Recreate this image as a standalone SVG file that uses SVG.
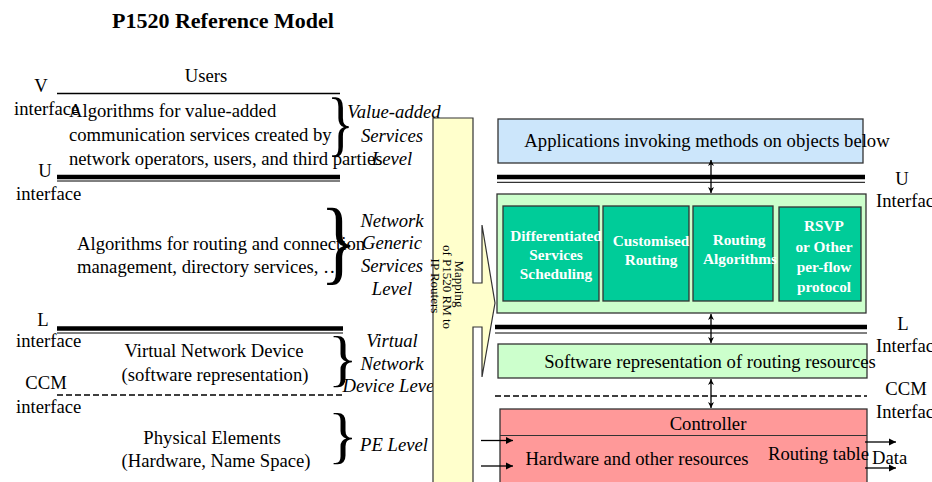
<svg xmlns="http://www.w3.org/2000/svg" width="932" height="482" viewBox="0 0 932 482">
<defs>
<style>
text{font-family:"Liberation Serif","Times New Roman",serif;fill:#000;}
.t{font-size:18.67px;}
.i{font-size:18.67px;font-style:italic;}
.m{text-anchor:middle;}
.b{font-size:15.3px;font-weight:bold;fill:#fff;text-anchor:middle;}
.br{font-size:56px;}
.thin{stroke:#000;stroke-width:1.3;fill:none;}
.thick{stroke:#000;stroke-width:4.5;fill:none;}
.hair{stroke:#000;stroke-width:1;fill:none;}
.dash{stroke:#000;stroke-width:1.6;stroke-dasharray:6 3;fill:none;}
.box{stroke:#333;stroke-width:1.3;}
.arr{stroke:#000;stroke-width:1.3;fill:none;}
</style>
<marker id="ah" viewBox="0 0 10 10" refX="10" refY="5" markerWidth="7" markerHeight="10" markerUnits="userSpaceOnUse" orient="auto-start-reverse">
<path d="M0,0 L10,5 L0,10 Z" fill="#000"/>
</marker>
<marker id="sh" viewBox="0 0 10 10" refX="10" refY="5" markerWidth="8" markerHeight="6" markerUnits="userSpaceOnUse" orient="auto-start-reverse">
<path d="M0,0 L10,5 L0,10 L3,5 Z" fill="#000"/>
</marker>
</defs>
<rect width="932" height="482" fill="#fff"/>

<g id="title"><text x="112" y="28" style="font-size:22px;font-weight:bold">P1520 Reference Model</text></g>

<g id="left-model">
<text class="t m" x="206" y="82">Users</text>
<text class="t m" x="41" y="92">V</text>
<text class="t" x="14" y="115">interface</text>
<text class="t" x="69" y="117">Algorithms for value-added</text>
<text class="t" x="69" y="141">communication services created by</text>
<text class="t" x="69" y="165">network operators, users, and third parties</text>
<text class="t m" x="45" y="177">U</text>
<text class="t" x="16" y="200">interface</text>
<text class="t" x="77" y="250">Algorithms for routing and connection</text>
<text class="t" x="77" y="273">management, directory services, …</text>
<text class="t m" x="43" y="326">L</text>
<text class="t" x="16" y="347">interface</text>
<text class="t m" x="214" y="357">Virtual Network Device</text>
<text class="t m" x="215" y="381">(software representation)</text>
<text class="t m" x="46" y="389">CCM</text>
<text class="t" x="16" y="413">interface</text>
<text class="t m" x="212" y="444">Physical Elements</text>
<text class="t m" x="216" y="467">(Hardware, Name Space)</text>

<line class="thin" x1="57" y1="93.5" x2="340" y2="93.5"/>
<line class="thick" x1="57" y1="177" x2="340" y2="177"/>
<line class="hair" x1="57" y1="181" x2="340" y2="181"/>
<line class="thick" x1="57" y1="328.5" x2="343" y2="328.5"/>
<line class="hair" x1="57" y1="333" x2="343" y2="333"/>
<line class="dash" x1="57" y1="395" x2="343" y2="395"/>

<text class="br" transform="translate(327,147.3) scale(1,1.27)">}</text>
<text class="br" style="font-size:60px" transform="translate(320,273.3) scale(1.3,1.56)">}</text>
<text class="br" transform="translate(328,378.9) scale(1.1,1.11)">}</text>
<text class="br" transform="translate(328,456.1) scale(1.1,1.09)">}</text>

<text class="i m" x="394" y="118">Value-added</text>
<text class="i m" x="392" y="142">Services</text>
<text class="i m" x="392" y="165">Level</text>
<text class="i m" x="392" y="227">Network</text>
<text class="i m" x="392" y="249">Generic</text>
<text class="i m" x="392" y="272">Services</text>
<text class="i m" x="392" y="295">Level</text>
<text class="i m" x="392" y="347">Virtual</text>
<text class="i m" x="392" y="370">Network</text>
<text class="i m" x="391" y="392">Device Level</text>
<text class="i m" x="394" y="451">PE Level</text>
</g>

<g id="mapping">
<path d="M433,118 L473,118 L473,283 L482,283 L482,225 L495,303 L482,377 L482,327 L473,327 L473,490 L433,490 Z" fill="#ffffcc" stroke="#333" stroke-width="1.2"/>
<g style="font-size:13px">
<text class="m" transform="translate(455,284) rotate(90)">Mapping</text>
<text class="m" transform="translate(443,287) rotate(90)">of P1520 RM to</text>
<text class="m" transform="translate(430.5,286) rotate(90)">IP Routers</text>
</g>
</g>

<g id="applications">
<rect class="box" x="498" y="119" width="365" height="44" fill="#cce6fb"/>
<text class="t m" x="707" y="147">Applications invoking methods on objects below</text>
</g>

<g id="u-interface">
<line class="thick" x1="497" y1="177" x2="865" y2="177"/>
<line class="hair" x1="497" y1="182.3" x2="865" y2="182.3"/>
<text class="t m" x="902" y="185">U</text>
<text class="t" x="876" y="207">Interface</text>
</g>

<g id="generic-services">
<rect class="box" x="497" y="194" width="369" height="119" fill="#ccffcc"/>
</g>
<g id="diffserv">
<rect class="box" x="503" y="206" width="96" height="95" fill="#00cc99"/>
<text class="b" x="556" y="241">Differentiated</text>
<text class="b" x="556" y="260">Services</text>
<text class="b" x="556" y="279">Scheduling</text>
</g>
<g id="customised-routing">
<rect class="box" x="603" y="206" width="86" height="95" fill="#00cc99"/>
<text class="b" x="651" y="246">Customised</text>
<text class="b" x="651" y="265">Routing</text>
</g>
<g id="routing-algorithms">
<rect class="box" x="693" y="206" width="80" height="95" fill="#00cc99"/>
<text class="b" x="739" y="245">Routing</text>
<text class="b" x="740" y="264">Algorithms</text>
</g>
<g id="rsvp">
<rect class="box" x="779" y="207" width="82" height="94" fill="#00cc99"/>
<text class="b" x="824" y="231">RSVP</text>
<text class="b" x="824" y="252">or Other</text>
<text class="b" x="824" y="272">per-flow</text>
<text class="b" x="824" y="292">protocol</text>
</g>

<g id="l-interface">
<line class="thick" x1="495" y1="327" x2="867" y2="327"/>
<line class="hair" x1="495" y1="333" x2="867" y2="333"/>
<text class="t m" x="903" y="330">L</text>
<text class="t" x="876" y="352">Interface</text>
</g>

<g id="software-representation">
<rect class="box" x="498" y="344" width="369" height="34" fill="#ccffcc"/>
<text class="t m" x="710" y="368">Software representation of routing resources</text>
</g>

<g id="ccm-interface">
<line class="dash" x1="495" y1="396" x2="867" y2="396"/>
<text class="t m" x="906" y="395">CCM</text>
<text class="t" x="876" y="418">Interface</text>
</g>

<g id="hardware">
<rect class="box" x="500" y="409" width="367" height="85" fill="#ff9999"/>
<line stroke="#333" stroke-width="1.2" x1="500" y1="435.5" x2="867" y2="435.5"/>
<text class="t m" x="708" y="430">Controller</text>
<text class="t m" x="637" y="465">Hardware and other resources</text>
<text class="t" x="768" y="460">Routing table</text>
<text class="t" x="872" y="464">Data</text>
</g>

<g id="connectors">
<line class="arr" x1="711" y1="160" x2="711" y2="193" marker-start="url(#sh)" marker-end="url(#sh)"/>
<line class="arr" x1="711" y1="314" x2="711" y2="343" marker-start="url(#sh)" marker-end="url(#sh)"/>
<line class="arr" x1="711" y1="379" x2="711" y2="408" marker-start="url(#sh)" marker-end="url(#sh)"/>
<line class="arr" x1="481" y1="440.5" x2="513" y2="440.5" marker-end="url(#ah)"/>
<line class="arr" x1="481" y1="466" x2="513" y2="466" marker-end="url(#ah)"/>
<line class="arr" x1="865" y1="442" x2="896" y2="442" marker-end="url(#ah)"/>
<line class="arr" x1="865" y1="468" x2="896" y2="468" marker-end="url(#ah)"/>
</g>
</svg>
